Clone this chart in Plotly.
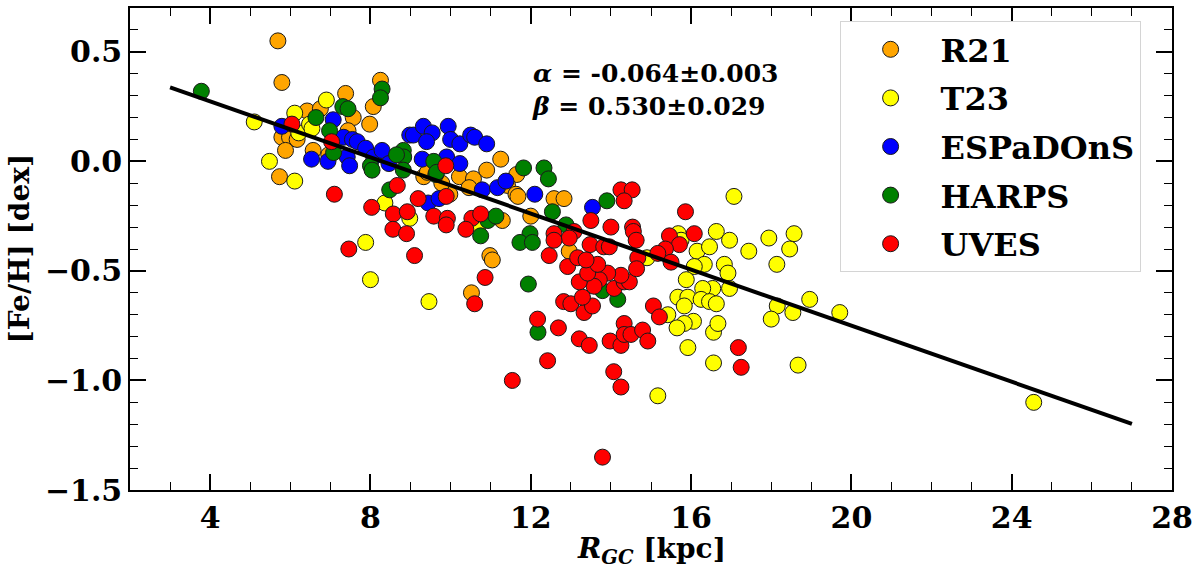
import plotly.graph_objects as go

# Galactocentric radius (kpc) and [Fe/H] (dex) per sample
r21_rgc = [5.69, 5.79, 5.79, 5.98, 5.88, 6.17, 5.73, 6.42, 6.75, 7.38, 7.57, 7.44, 7.98, 8.25,
           8.07, 6.57, 6.96, 10.22, 10.57, 9.33, 9.98, 9.42, 10.90, 11.25, 11.65, 11.42, 11.63,
           11.68, 10.46, 9.78, 12.58, 12.83, 12.00, 12.96, 10.98, 11.04, 10.52, 11.29]
r21_feh = [0.55, 0.36, 0.11, 0.11, 0.05, 0.10, -0.07, 0.23, 0.24, 0.31, 0.20, 0.14, 0.17, 0.37,
           0.25, 0.05, 0.03, -0.07, -0.08, -0.07, -0.15, -0.05, -0.04, 0.01, -0.06, -0.11, -0.15,
           -0.16, -0.12, -0.10, -0.17, -0.17, -0.25, -0.41, -0.43, -0.45, -0.60, -0.27]

t23_rgc = [5.10, 6.11, 6.21, 5.48, 6.11, 6.48, 6.54, 6.90, 8.36, 8.98, 7.88, 8.00, 9.46, 10.67,
           14.90, 15.68, 15.75, 16.63, 16.15, 16.46, 16.33, 16.08, 15.88, 16.54, 16.29, 15.67,
           15.92, 15.83, 16.25, 16.46, 16.63, 15.42, 16.06, 15.83, 15.65, 16.56, 15.92, 16.56,
           15.17, 17.07, 16.96, 17.44, 17.94, 18.57, 18.46, 18.14, 18.96, 18.15, 18.00, 18.54,
           18.67, 19.71, 16.83, 16.92, 16.96, 16.67, 24.55]
t23_feh = [0.18, 0.22, 0.13, 0.00, -0.09, 0.17, 0.15, 0.28, -0.19, -0.26, -0.37, -0.54, -0.64, -0.30,
           -0.44, -0.33, -0.36, -0.32, -0.41, -0.39, -0.47, -0.48, -0.54, -0.58, -0.58, -0.62,
           -0.62, -0.66, -0.63, -0.64, -0.65, -0.70, -0.73, -0.74, -0.76, -0.78, -0.85, -0.92,
           -1.07, -0.16, -0.36, -0.41, -0.35, -0.33, -0.40, -0.47, -0.63, -0.66, -0.72, -0.69,
           -0.93, -0.69, -0.47, -0.51, -0.58, -0.74, -1.10]

esp_rgc = [5.79, 7.07, 7.33, 7.55, 7.67, 7.88, 6.53, 6.94, 7.42, 7.48, 8.08, 8.29, 8.46, 8.98,
           9.44, 9.71, 10.79, 11.17, 9.07, 9.32, 9.54, 9.40, 9.94, 10.00, 10.23, 10.50, 10.60,
           10.90, 9.29, 9.90, 10.23, 11.38, 12.10, 13.54]
esp_feh = [0.16, 0.19, 0.11, 0.10, 0.09, 0.06, 0.01, 0.00, 0.02, -0.02, 0.02, 0.05, -0.01, 0.12,
           -0.19, -0.17, -0.13, -0.12, 0.12, 0.16, 0.13, 0.09, 0.16, 0.10, 0.08, 0.12, 0.11,
           0.08, 0.01, 0.02, -0.01, -0.09, -0.15, -0.21]

harps_rgc = [3.78, 6.64, 7.31, 7.44, 6.98, 8.29, 8.25, 8.00, 8.82, 8.83, 8.82, 8.48, 9.63, 10.75,
             10.93, 11.13, 9.58, 9.65, 11.82, 12.33, 12.44, 12.54, 13.90, 12.88, 11.98, 11.73,
             12.04, 11.94, 12.18, 14.17, 13.79, 7.08, 8.04, 8.65]
harps_feh = [0.32, 0.20, 0.25, 0.24, 0.14, 0.33, 0.29, -0.02, 0.05, 0.02, -0.04, -0.13, -0.06, -0.34,
             -0.27, -0.25, 0.00, -0.05, -0.03, -0.03, -0.08, -0.23, -0.18, -0.29, -0.33, -0.37,
             -0.37, -0.56, -0.78, -0.63, -0.59, 0.04, -0.04, 0.03]

uves_rgc = [6.04, 7.03, 8.67, 7.10, 8.03, 8.57, 8.92, 8.56, 8.90, 7.46, 9.19, 9.89, 9.58, 9.92,
            9.89, 9.10, 10.53, 10.75, 10.38, 10.86, 10.60, 9.88, 14.00, 13.50, 12.58, 13.08,
            12.96, 12.46, 13.48, 13.82, 14.25, 14.53, 14.33, 14.54, 14.56, 14.63, 15.86, 16.08,
            15.46, 15.71, 15.36, 15.17, 15.50, 15.06, 15.21, 13.79, 14.25, 14.07, 11.54, 12.42,
            12.17, 12.69, 13.21, 13.46, 13.98, 14.25, 14.33, 14.33, 14.50, 14.79, 14.92, 12.82,
            13.00, 13.33, 13.54, 13.29, 14.08, 14.33, 14.46, 14.25, 13.92, 13.71, 13.58, 13.21,
            13.42, 13.67, 12.92, 13.17, 13.38, 13.96, 12.58, 14.67, 14.64, 17.18, 17.25]
uves_feh = [0.17, 0.09, -0.11, -0.15, -0.21, -0.24, -0.23, -0.31, -0.33, -0.40, -0.17, -0.16, -0.25, -0.26,
            -0.29, -0.43, -0.26, -0.24, -0.31, -0.53, -0.65, -0.02, -0.30, -0.27, -0.33, -0.32,
            -0.35, -0.43, -0.38, -0.39, -0.13, -0.13, -0.18, -0.30, -0.32, -0.36, -0.23, -0.33,
            -0.34, -0.38, -0.40, -0.42, -0.46, -0.66, -0.71, -1.35, -1.03, -0.96, -1.00, -0.91,
            -0.72, -0.76, -0.81, -0.84, -0.82, -0.84, -0.74, -0.79, -0.79, -0.77, -0.82, -0.64,
            -0.65, -0.69, -0.66, -0.62, -0.58, -0.55, -0.55, -0.52, -0.51, -0.54, -0.57, -0.55,
            -0.51, -0.47, -0.48, -0.44, -0.45, -0.39, -0.36, -0.44, -0.49, -0.85, -0.94]

# linear fit [Fe/H] = alpha*R + beta, drawn between its two ends
fit_rgc = [3.0, 27.0]
fit_feh = [0.338, -1.198]
alpha_txt = "-0.064±0.003"
beta_txt = "0.530±0.029"

samples = [
    ("R21", r21_rgc, r21_feh, "#ffa500"),
    ("T23", t23_rgc, t23_feh, "#ffff00"),
    ("ESPaDOnS", esp_rgc, esp_feh, "#0000ff"),
    ("HARPS", harps_rgc, harps_feh, "#008000"),
    ("UVES", uves_rgc, uves_feh, "#ff0000"),
]

serif = "DejaVu Serif"
fig = go.Figure()

for name, xs, ys, col in samples:
    fig.add_trace(go.Scatter(
        x=xs, y=ys, mode="markers", name=name, legendgroup=name,
        marker=dict(size=16, color=col, line=dict(color="#1a1a1a", width=1)),
    ))

fig.add_trace(go.Scatter(
    x=fit_rgc, y=fit_feh, mode="lines", showlegend=False,
    line=dict(color="black", width=4),
))

# fit parameters
fig.add_annotation(
    x=11.98, y=0.324, xref="x", yref="y", xanchor="left", yanchor="middle",
    showarrow=False, align="left",
    text=f"<b><i>α</i> = {alpha_txt}</b><br><b><i>β</i> = {beta_txt}</b>",
    font=dict(family=serif, size=25, color="black"),
)

# axis titles placed as annotations so they sit where the original has them
fig.add_annotation(
    x=0.5, y=-0.125, xref="paper", yref="paper", xanchor="center", yanchor="middle",
    showarrow=False, text="<b><i>R</i><sub><i>GC</i></sub> [kpc]</b>",
    font=dict(family=serif, size=28, color="black"),
)
fig.add_annotation(
    x=-0.107, y=0.5, xref="paper", yref="paper", xanchor="center", yanchor="middle",
    showarrow=False, textangle=-90, text="<b>[Fe/H] [dex]</b>",
    font=dict(family=serif, size=28, color="black"),
)

axis_common = dict(
    showline=True, linecolor="black", linewidth=1.5, mirror="allticks",
    ticks="inside", ticklen=16, tickwidth=1.5, tickcolor="black",
    showgrid=False, zeroline=False,
    tickfont=dict(family=serif, size=30, color="black", weight="bold"),
)

fig.update_xaxes(
    range=[2, 28], tickvals=[4, 8, 12, 16, 20, 24, 28],
    minor=dict(dtick=1, ticks="inside", ticklen=8, tickwidth=1.2, tickcolor="black", showgrid=False),
    **axis_common,
)
fig.update_yaxes(
    range=[-1.5, 0.7], tickvals=[-1.5, -1.0, -0.5, 0.0, 0.5], tickformat=".1f",
    minor=dict(dtick=0.1, ticks="inside", ticklen=8, tickwidth=1.2, tickcolor="black", showgrid=False),
    **axis_common,
)

fig.update_layout(
    width=1200, height=568,
    margin=dict(l=130, r=28, t=6, b=78),
    plot_bgcolor="white", paper_bgcolor="white",
    legend=dict(
        x=0.681, y=0.973, xanchor="left", yanchor="top",
        bgcolor="white", bordercolor="#d4d4d4", borderwidth=1,
        font=dict(family=serif, size=32, color="black", weight="bold"),
        itemwidth=90, tracegroupgap=4,
    ),
)

# the page body has a default 8px margin; drop it so the figure sits at 0,0
fig.write_html("out.html", config={"displayModeBar": False},
               post_script="document.body.style.margin='0';")
